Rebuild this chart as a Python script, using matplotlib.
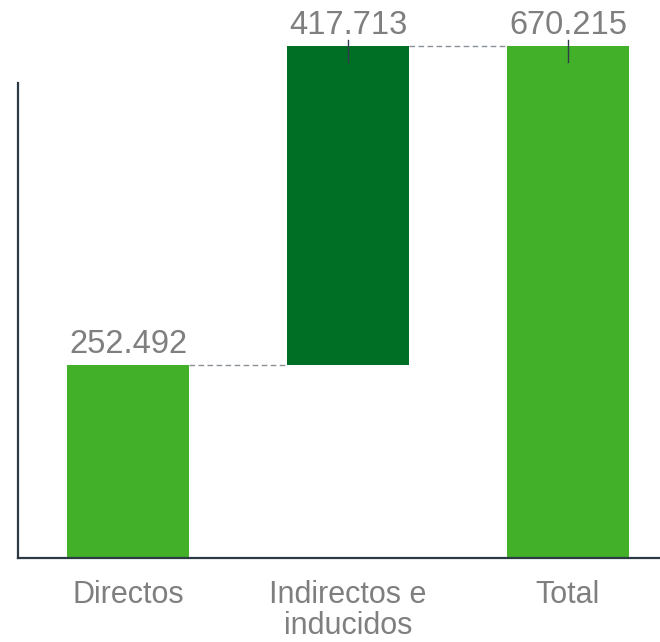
import matplotlib
matplotlib.use("Agg")
import matplotlib.pyplot as plt

# Chart data
categories = ["Directos", "Indirectos e\ninducidos", "Total"]
values = [252.492, 417.713, 670.215]
value_labels = ["252.492", "417.713", "670.215"]
is_total = [False, False, True]

plt.rcParams['font.family'] = ['Liberation Sans', 'DejaVu Sans']

LIGHT = '#43b02a'
DARK = '#006f26'
TEXT = '#7f7f7f'
AXIS = '#2b3a45'

fig = plt.figure(figsize=(6.6, 6.42), dpi=100)
ax = fig.add_axes([18 / 660, 1 - 558 / 642, 660 / 660, 475 / 642])

# waterfall bottoms
bottoms = []
running = 0.0
for v, tot in zip(values, is_total):
    if tot:
        bottoms.append(0.0)
        running = v
    else:
        bottoms.append(running)
        running += v
tops = [b + v for b, v in zip(bottoms, values)]
colors = [LIGHT, DARK, LIGHT]

x = list(range(len(categories)))
width = 0.555
ax.bar(x, values, bottom=bottoms, width=width, color=colors, clip_on=False, zorder=2)

# dashed connectors between bars
for i in range(len(x) - 1):
    ax.plot([x[i] + width / 2, x[i + 1] - width / 2], [tops[i], tops[i]],
            color='#8a9097', lw=1.0, ls=(0, (4, 2.5)), clip_on=False, zorder=1)

# value labels
for i in range(len(x)):
    ax.annotate(value_labels[i], (x[i], tops[i]), xytext=(0, 8.5),
                textcoords='offset points', ha='center', va='baseline',
                fontsize=23.5, color=TEXT, annotation_clip=False)

# small marks at the top of the stacked bars
for i in range(1, len(x)):
    ax.plot([x[i], x[i]], [tops[i] + 8, tops[i] - 21], color='#2f3d48', lw=1.0,
            clip_on=False, zorder=3)

ax.set_xlim(-0.5, 2.5)
ax.set_ylim(0, 622)
ax.set_xticks(x)
ax.set_xticklabels(categories, fontsize=22, color=TEXT, linespacing=1.08)
ax.tick_params(axis='x', length=0, pad=15.5)
ax.set_yticks([])

for side in ['top', 'right']:
    ax.spines[side].set_visible(False)
for side in ['left', 'bottom']:
    ax.spines[side].set_color(AXIS)
    ax.spines[side].set_linewidth(1.6)

fig.savefig('out.png', dpi=100)
